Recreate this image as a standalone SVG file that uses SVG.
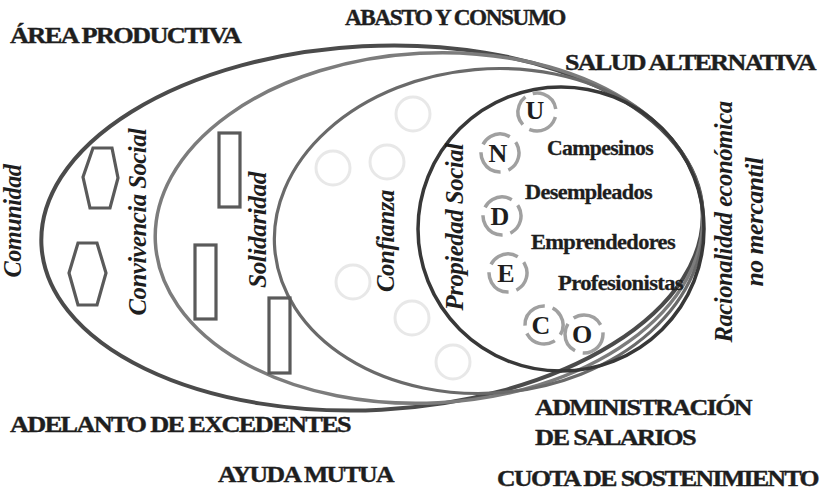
<svg xmlns="http://www.w3.org/2000/svg" width="821" height="493" viewBox="0 0 821 493">
<style>
.t{font-family:"Liberation Serif","Times New Roman",serif;font-weight:bold;fill:#1e1e1e;stroke:#1e1e1e;stroke-width:0.4;font-size:24px;letter-spacing:-1.5px}
.v{font-family:"Liberation Serif","Times New Roman",serif;font-weight:bold;font-style:italic;fill:#1e1e1e;font-size:25px;text-anchor:middle;letter-spacing:-0.5px}
.g{font-family:"Liberation Serif","Times New Roman",serif;font-weight:bold;fill:#1e1e1e;stroke:#1e1e1e;stroke-width:0.3;font-size:21px;letter-spacing:-0.6px}
.l{font-family:"Liberation Serif","Times New Roman",serif;font-weight:bold;fill:#1e1e1e;font-size:26px;text-anchor:middle}
.ring{fill:none;stroke:#e8e8e8;stroke-width:3}
.dash{fill:none;stroke:#a0a0a0;stroke-width:3.5;stroke-dasharray:31 8}
.shape{fill:none;stroke:#5a5a5a;stroke-width:3.2}
</style>
<rect width="821" height="493" fill="#ffffff"/>

<g id="faint-rings">
<circle class="ring" cx="413" cy="114" r="17"/>
<circle class="ring" cx="387" cy="162" r="17"/>
<circle class="ring" cx="333" cy="168" r="17"/>
<circle class="ring" cx="353" cy="282" r="17"/>
<circle class="ring" cx="412" cy="318" r="17"/>
<circle class="ring" cx="453" cy="362" r="17"/>
</g>

<g id="comunidad">
<ellipse cx="372" cy="228" rx="331" ry="182" transform="rotate(-3 372 228)" fill="none" stroke="#4b4b4b" stroke-width="4"/>
<text class="v" transform="translate(21,221) rotate(-90)" textLength="113" lengthAdjust="spacingAndGlyphs">Comunidad</text>
</g>

<g id="convivencia-social">
<ellipse cx="429" cy="228" rx="274" ry="175" transform="rotate(-3 429 228)" fill="none" stroke="#7c7c7c" stroke-width="3.5"/>
<text class="v" transform="translate(146,222) rotate(-90)" textLength="187" lengthAdjust="spacingAndGlyphs">Convivencia Social</text>
</g>

<g id="solidaridad">
<text class="v" transform="translate(266,230) rotate(-90)" textLength="116" lengthAdjust="spacingAndGlyphs">Solidaridad</text>
</g>

<g id="confianza">
<ellipse cx="489" cy="231" rx="215" ry="162" transform="rotate(-5 489 231)" fill="none" stroke="#6a6a6a" stroke-width="3.2"/>
<text class="v" transform="translate(394,241) rotate(-90)" textLength="102" lengthAdjust="spacingAndGlyphs">Confianza</text>
</g>

<g id="propiedad-social">
<ellipse cx="561" cy="229" rx="143" ry="142" fill="none" stroke="#383838" stroke-width="3.5"/>
<text class="v" transform="translate(463,227) rotate(-90)" textLength="167" lengthAdjust="spacingAndGlyphs">Propiedad Social</text>
</g>

<g id="hexagons">
<polygon class="shape" points="93,148 112,148 118,178 110,208 90,208 83,177"/>
<polygon class="shape" points="78,243 97,243 106,273 97,305 78,305 69,273"/>
</g>

<g id="rectangles">
<rect class="shape" x="219" y="133" width="21" height="74"/>
<rect class="shape" x="195" y="245" width="21" height="74"/>
<rect class="shape" x="269" y="298" width="21" height="75"/>
</g>

<g id="unideco">
<circle class="dash" cx="537" cy="112" r="19" transform="rotate(20 537 112)"/>
<text class="l" x="535" y="119">U</text>
<circle class="dash" cx="500" cy="153" r="19" transform="rotate(-30 500 153)"/>
<text class="l" x="498" y="162">N</text>
<circle class="dash" cx="502" cy="216" r="19" transform="rotate(-30 502 216)"/>
<text class="l" x="500" y="225">D</text>
<circle class="dash" cx="508" cy="273" r="19" transform="rotate(-30 508 273)"/>
<text class="l" x="506" y="282">E</text>
<circle class="dash" cx="544" cy="325" r="19" transform="rotate(60 544 325)"/>
<text class="l" x="541" y="334">C</text>
<circle class="dash" cx="584" cy="334" r="19"/>
<text class="l" x="582" y="343">O</text>
</g>

<g id="groups">
<text class="g" x="547" y="155" textLength="106" lengthAdjust="spacingAndGlyphs">Campesinos</text>
<text class="g" x="525" y="199" textLength="127" lengthAdjust="spacingAndGlyphs">Desempleados</text>
<text class="g" x="531" y="249" textLength="144" lengthAdjust="spacingAndGlyphs">Emprendedores</text>
<text class="g" x="558" y="290" textLength="125" lengthAdjust="spacingAndGlyphs">Profesionistas</text>
</g>

<g id="racionalidad">
<text class="v" transform="translate(732,222) rotate(-90)" textLength="241" lengthAdjust="spacingAndGlyphs">Racionalidad económica</text>
<text class="v" transform="translate(763,222) rotate(-90)" textLength="129" lengthAdjust="spacingAndGlyphs">no mercantil</text>
</g>

<g id="areas">
<text class="t" x="345" y="25" textLength="220" lengthAdjust="spacingAndGlyphs">ABASTO Y CONSUMO</text>
<text class="t" x="10" y="43" textLength="230" lengthAdjust="spacingAndGlyphs">ÁREA PRODUCTIVA</text>
<text class="t" x="565" y="70" textLength="250" lengthAdjust="spacingAndGlyphs">SALUD ALTERNATIVA</text>
<text class="t" x="535" y="415" textLength="216" lengthAdjust="spacingAndGlyphs">ADMINISTRACIÓN</text>
<text class="t" x="10" y="432" textLength="340" lengthAdjust="spacingAndGlyphs">ADELANTO DE EXCEDENTES</text>
<text class="t" x="535" y="445" textLength="160" lengthAdjust="spacingAndGlyphs">DE SALARIOS</text>
<text class="t" x="218" y="482" textLength="175" lengthAdjust="spacingAndGlyphs">AYUDA MUTUA</text>
<text class="t" x="497" y="486" textLength="321" lengthAdjust="spacingAndGlyphs">CUOTA DE SOSTENIMIENTO</text>
</g>
</svg>
